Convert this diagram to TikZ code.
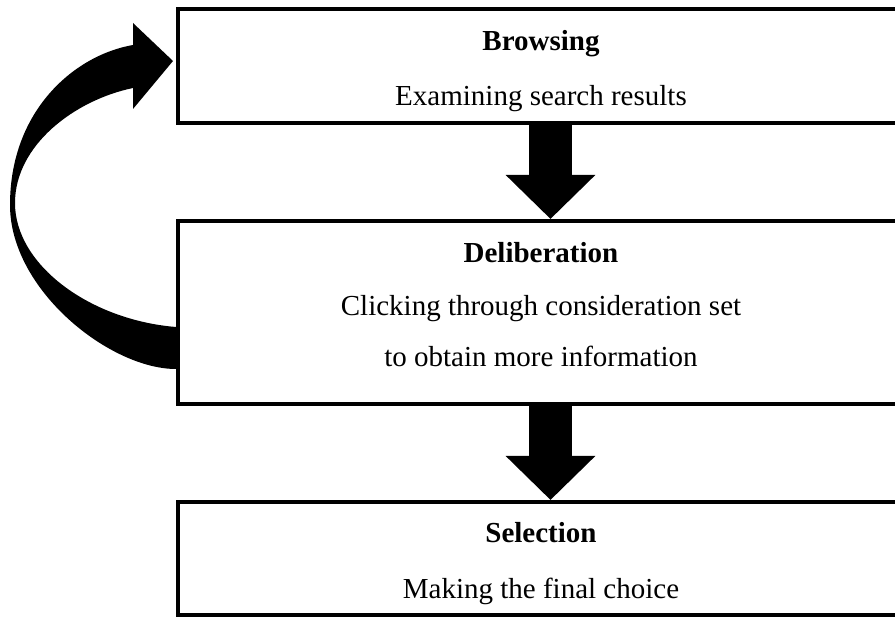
\documentclass[tikz,border=0pt]{standalone}
\usepackage{fontspec}
\setmainfont{Liberation Serif}
\usetikzlibrary{arrows.meta,calc}
\begin{document}
\begin{tikzpicture}[x=1pt,y=-1pt,
  box/.style={draw=black, line width=4pt, fill=white, rectangle, inner sep=0pt, minimum width=726pt},
  txt/.style={anchor=base, inner sep=0pt, font=\fontsize{29}{34}\selectfont},
  ttl/.style={txt, font=\fontsize{29}{34}\selectfont\bfseries},
  bigarrow/.style={line width=43pt, -{Triangle[length=44pt,width=87pt]}}]
\useasboundingbox (0,0) rectangle (895,617);
\clip (0,0) rectangle (895,617);
\fill[white] (0,0) rectangle (895,617);
% boxes
\node[box, minimum height=114pt] (browse) at (541,66) {};
\node[box, minimum height=183pt] (delib) at (541,312.5) {};
\node[box, minimum height=113pt] (select) at (541,558.5) {};
% texts
\node[ttl] (t1) at (541,51) {Browsing};
\node[txt] (s1) at (541,106) {Examining search results};
\node[ttl] (t2) at (541,263) {Deliberation};
\node[txt] (s2a) at (541,316) {Clicking through consideration set};
\node[txt] (s2b) at (541,367) {to obtain more information};
\node[ttl] (t3) at (541,543) {Selection};
\node[txt] (s3) at (541,598) {Making the final choice};
% straight arrows
\draw[bigarrow] ($(browse.south)+(9.5,0)$) -- ($(delib.north)+(9.5,0)$);
\draw[bigarrow] ($(delib.south)+(9.5,0)$) -- ($(select.north)+(9.5,0)$);
% curved arrow
\fill[black] (176,369) .. controls (110,369) and (10,290) .. (10,205)
  .. controls (10,110) and (75,55) .. (133,45)
  -- (133,23) -- ($(browse.west)+(-3,-5)$) -- (133,109) -- (133,88)
  .. controls (75,100) and (15,145) .. (15,203)
  .. controls (15,265) and (90,320) .. (176,327) -- cycle;
\end{tikzpicture}
\end{document}
